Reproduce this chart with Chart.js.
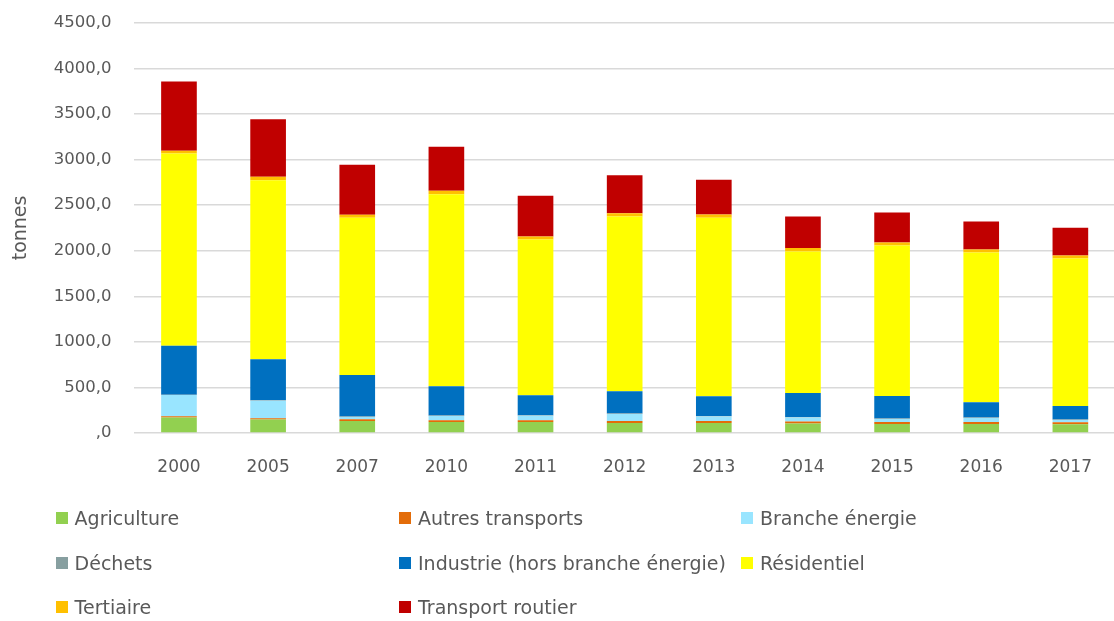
<!DOCTYPE html>
<html>
<head>
<meta charset="utf-8">
<script src="https://cdn.jsdelivr.net/npm/chart.js@4/dist/chart.umd.min.js"></script>
<style>
  html, body { margin: 0; padding: 0; background: #fff; overflow: hidden; }
  #wrap { position: relative; width: 1114px; height: 621px; overflow: hidden; }
  #cbox { position: absolute; left: 0; top: -10px; width: 1116px; height: 500px; }
  #legend { position: absolute; left: 0; top: 0; width: 1114px; height: 621px; pointer-events: none;
            font-family: "DejaVu Sans", sans-serif; font-size: 19px; color: #595959; }
  .li { position: absolute; display: flex; align-items: center; white-space: nowrap; transform: translateY(-50%); }
  .sw { width: 12px; height: 12px; margin-right: 7px; flex: none; }
</style>
</head>
<body>
<div id="wrap">
  <div id="cbox"><canvas id="c"></canvas></div>
  <div id="legend"></div>
</div>
<script>
const categories = ["2000","2005","2007","2010","2011","2012","2013","2014","2015","2016","2017"];

const agriculture      = [169, 147, 132, 121, 121, 110, 110, 103,  99,  99,  95];
const autresTransports = [ 14,  15,  20,  20,  18,  22,  22,  22,  22,  22,  22];
const brancheEnergie   = [234, 192,  24,  46,  51,  77,  50,  46,  33,  44,  26];
const dechets          = [  4,   4,   4,   4,   4,   4,   4,   4,   4,   4,   4];
const industrie        = [537, 450, 456, 321, 219, 244, 216, 264, 248, 168, 149];
const residentiel      = [2109,1966,1726,2108,1711,1919,1960,1553,1652,1644,1620];
const tertiaire        = [ 29,  37,  33,  38,  33,  36,  36,  37,  33,  33,  32];
const transportRoutier = [760, 632, 548, 482, 446, 417, 380, 347, 329, 307, 304];

const seriesNames  = ["Agriculture","Autres transports","Branche énergie","Déchets","Industrie (hors branche énergie)","Résidentiel","Tertiaire","Transport routier"];
const seriesData   = [agriculture, autresTransports, brancheEnergie, dechets, industrie, residentiel, tertiaire, transportRoutier];
const seriesColors = ["#92D050","#E36C09","#99E5FF","#879FA0","#0070C0","#FFFF00","#FFC000","#C00000"];

const yTicks = [0,500,1000,1500,2000,2500,3000,3500,4000,4500];
const yTitle = "tonnes";

const textColor = "#595959";
const FONT = "'DejaVu Sans', sans-serif";

const datasets = seriesNames.map((n, i) => ({
  label: n,
  data: seriesData[i],
  backgroundColor: seriesColors[i],
  borderWidth: 0,
  categoryPercentage: 1.0,
  barPercentage: 0.40
}));

new Chart(document.getElementById("c"), {
  type: "bar",
  data: { labels: categories, datasets },
  options: {
    responsive: true,
    maintainAspectRatio: false,
    animation: false,
    layout: { padding: { top: 11.5, right: 0, bottom: 0, left: 0 } },
    plugins: { legend: { display: false }, tooltip: { enabled: false } },
    scales: {
      x: {
        stacked: true,
        grid: { display: false, drawTicks: false },
        border: { display: false },
        ticks: { color: textColor, font: { family: FONT, size: 17 }, padding: 24 },
        afterFit: s => { s.height = 57; }
      },
      y: {
        stacked: true,
        min: 0, max: 4500,
        afterBuildTicks: s => { s.ticks = yTicks.map(v => ({ value: v })); },
        grid: { color: "#d9d9d9", lineWidth: 1.5, drawTicks: false },
        border: { display: false },
        ticks: {
          color: textColor, font: { family: FONT, size: 16.5 }, padding: 23,
          callback: v => v === 0 ? ",0" : v.toFixed(1).replace(".", ",")
        },
        title: { display: true, text: yTitle, color: textColor, font: { family: FONT, size: 19 }, padding: { top: 10, bottom: 0 } },
        afterFit: s => { s.width = 134.4; }
      }
    }
  }
});

// HTML legend in 3 fixed columns
const legendPos = [
  [55.6, 518], [399, 518], [741, 518],
  [55.6, 563], [399, 563], [741, 563],
  [55.6, 607], [399, 607]
];
const lg = document.getElementById("legend");
seriesNames.forEach((n, i) => {
  const d = document.createElement("div");
  d.className = "li";
  d.style.left = legendPos[i][0] + "px";
  d.style.top = legendPos[i][1] + "px";
  const sw = document.createElement("span");
  sw.className = "sw";
  sw.style.background = seriesColors[i];
  const t = document.createElement("span");
  t.textContent = n;
  d.appendChild(sw); d.appendChild(t);
  lg.appendChild(d);
});
</script>
</body>
</html>
